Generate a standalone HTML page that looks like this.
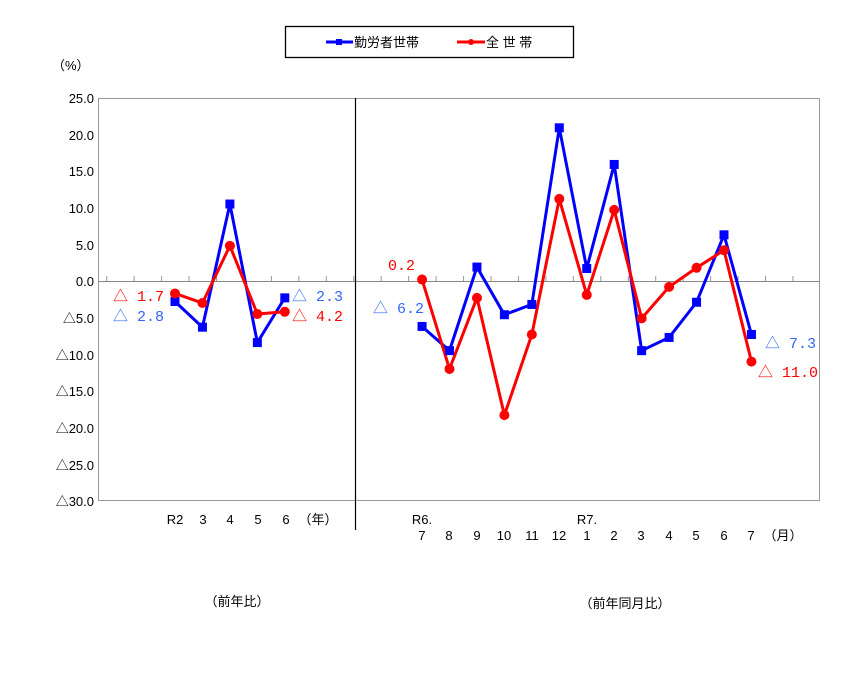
<!DOCTYPE html>
<html><head><meta charset="utf-8"><style>
body{margin:0;background:#fff}
svg text{font-family:"Liberation Sans","Noto Sans CJK JP",sans-serif;font-size:13px}
svg .lb{font-family:"Liberation Mono","Noto Sans CJK JP",monospace;font-size:15px}
</style></head><body>
<svg width="866" height="669" xmlns="http://www.w3.org/2000/svg">
<rect width="866" height="669" fill="#fff"/>
<rect x="285.5" y="26.5" width="288" height="31" fill="#fff" stroke="#000" stroke-width="1.3"/>
<line x1="326" y1="42" x2="353" y2="42" stroke="#00f" stroke-width="3"/><rect x="336" y="39" width="6" height="6" fill="#00f"/>
<text x="354" y="47" font-size="13">勤労者世帯</text>
<line x1="457" y1="42" x2="485" y2="42" stroke="#f00" stroke-width="3"/><circle cx="471" cy="42" r="3" fill="#f00"/>
<text x="486" y="47" font-size="13">全 世 帯</text>
<text x="52" y="70">（%）</text>
<rect x="98.5" y="98.5" width="721" height="402" fill="none" stroke="#999"/>
<line x1="98" y1="281.5" x2="820" y2="281.5" stroke="#888"/>
<line x1="355.5" y1="98" x2="355.5" y2="530" stroke="#000" stroke-width="1.2"/>
<g id="ticks" stroke="#999"></g>
<g font-size="13" text-anchor="end" fill="#000">
<text x="94" y="103">25.0</text><text x="94" y="140">20.0</text><text x="94" y="176">15.0</text><text x="94" y="213">10.0</text><text x="94" y="250">5.0</text><text x="94" y="286">0.0</text><text x="94" y="323">△5.0</text><text x="94" y="360">△10.0</text><text x="94" y="396">△15.0</text><text x="94" y="433">△20.0</text><text x="94" y="470">△25.0</text><text x="94" y="506">△30.0</text>
</g>
<g text-anchor="middle">
<text x="175" y="524">R2</text><text x="203" y="524">3</text><text x="230" y="524">4</text><text x="258" y="524">5</text><text x="286" y="524">6</text><text x="318" y="524">（年）</text>
<text x="422" y="524">R6.</text><text x="587" y="524">R7.</text>
<text x="422" y="540">7</text><text x="449" y="540">8</text><text x="477" y="540">9</text><text x="504" y="540">10</text><text x="532" y="540">11</text><text x="559" y="540">12</text><text x="587" y="540">1</text><text x="614" y="540">2</text><text x="641" y="540">3</text><text x="669" y="540">4</text><text x="696" y="540">5</text><text x="724" y="540">6</text><text x="751" y="540">7</text><text x="783" y="540">（月）</text>
<text x="237" y="606">（前年比）</text><text x="625" y="608">（前年同月比）</text>
</g>
<g id="series"></g>
<g class="lb">
<text class="lb" x="113" y="301" fill="#f00">△ 1.7</text>
<text class="lb" x="113" y="321" fill="#36f">△ 2.8</text>
<text class="lb" x="292" y="301" fill="#36f">△ 2.3</text>
<text class="lb" x="292" y="321" fill="#f00">△ 4.2</text>
<text class="lb" x="388" y="270" fill="#f00">0.2</text>
<text class="lb" x="373" y="313" fill="#36f">△ 6.2</text>
<text class="lb" x="765" y="348" fill="#36f">△ 7.3</text>
<text class="lb" x="758" y="377" fill="#f00">△ 11.0</text>
</g>
</svg>
<script>
var ns="http://www.w3.org/2000/svg";
var t=document.getElementById("ticks");
for(var x=106.7;x<820;x+=27.45){var l=document.createElementNS(ns,"line");l.setAttribute("x1",x);l.setAttribute("x2",x);l.setAttribute("y1",276);l.setAttribute("y2",281);t.appendChild(l);}
function X(i){return 175+i*27.45}
function Y(v){return 281-v*7.33}
var g=document.getElementById("series");
function line(idx,vals,col){var p=idx.map(function(i,k){return X(i)+","+Y(vals[k])}).join(" ");var e=document.createElementNS(ns,"polyline");e.setAttribute("points",p);e.setAttribute("fill","none");e.setAttribute("stroke",col);e.setAttribute("stroke-width","3");g.appendChild(e);}
function marks(idx,vals,col,sq){idx.forEach(function(i,k){var e;if(sq){e=document.createElementNS(ns,"rect");e.setAttribute("x",X(i)-4.5);e.setAttribute("y",Y(vals[k])-4.5);e.setAttribute("width",9);e.setAttribute("height",9);}else{e=document.createElementNS(ns,"circle");e.setAttribute("cx",X(i));e.setAttribute("cy",Y(vals[k]));e.setAttribute("r",5);}e.setAttribute("fill",col);g.appendChild(e);});}
var a=[0,1,2,3,4],m=[9,10,11,12,13,14,15,16,17,18,19,20,21];
var ba=[-2.8,-6.3,10.5,-8.4,-2.3],ra=[-1.7,-3.0,4.8,-4.5,-4.2];
var bm=[-6.2,-9.5,1.9,-4.6,-3.2,20.9,1.7,15.9,-9.5,-7.7,-2.9,6.3,-7.3];
var rm=[0.2,-12.0,-2.3,-18.3,-7.3,11.2,-1.9,9.7,-5.1,-0.8,1.8,4.2,-11.0];
line(a,ba,"#00f");line(m,bm,"#00f");line(a,ra,"#f00");line(m,rm,"#f00");
marks(a,ba,"#00f",1);marks(m,bm,"#00f",1);marks(a,ra,"#f00",0);marks(m,rm,"#f00",0);
</script>
</body></html>
